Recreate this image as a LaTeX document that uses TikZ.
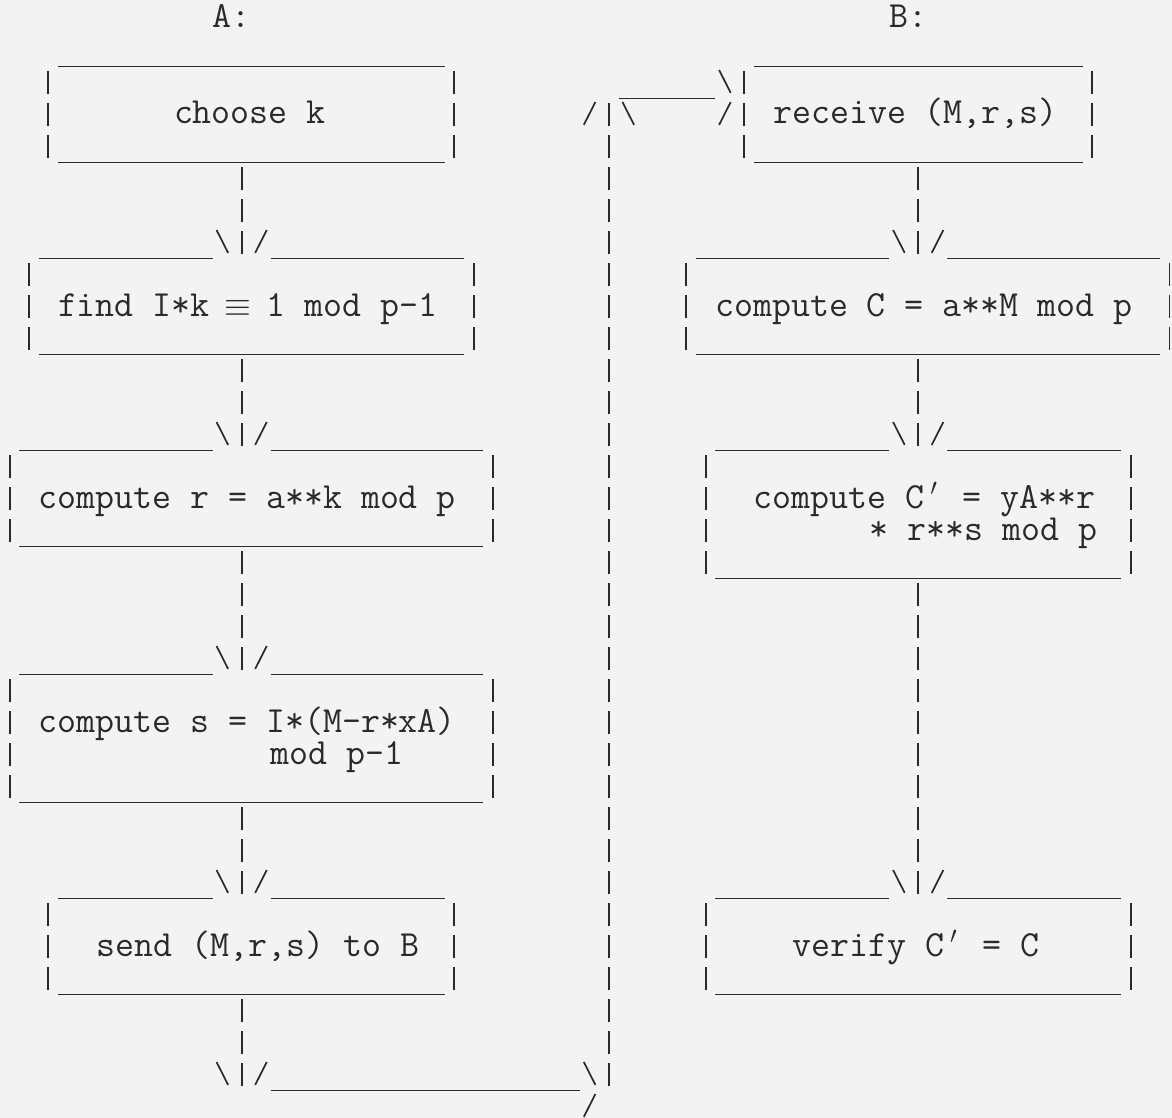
\documentclass[tikz,border=0pt]{standalone}
\usepackage{fontspec}
\definecolor{ink}{HTML}{2A2A2A}
\definecolor{bgc}{HTML}{F3F3F3}
\newcommand\monochar[1]{\makebox[0.525em]{#1}}
\newcommand\twolines[3]{\vtop{\baselineskip=16pt\lineskiplimit=-20pt\hbox{#1}\hbox{\hspace*{#2}#3}}}
\tikzset{
  uline/.style={draw=ink, line width=0.85pt},
  vbar/.style={draw=ink, line width=0.95pt, dash pattern=on 11.5pt off 4.5pt, dash phase=13.75pt},
  vbarup/.style={draw=ink, line width=0.95pt, dash pattern=on 11.5pt off 4.5pt, dash phase=0pt},
  glyph/.style={draw=ink, line width=0.85pt},
  boxshape/.style={rectangle, inner sep=0pt, outer sep=0pt},
  txt/.style={text=ink, inner sep=0pt, outer sep=0pt, anchor=base west, font=\ttfamily\fontsize{18.41pt}{16pt}\selectfont},
}
\newcommand\bslash[2]{\draw[glyph] ({#1-0.3},{#2-0.375}) -- ({#1+0.3},{#2+0.34});}
\newcommand\fslash[2]{\draw[glyph] ({#1+0.3},{#2-0.375}) -- ({#1-0.3},{#2+0.34});}
% name, left col, right col, top row, bottom row, gap col (-1 = none)
\newcommand\abox[6]{%
  \pgfmathsetmacro\boxw{(#3-#2)*9.665}%
  \pgfmathsetmacro\boxh{(#5-#4)*16}%
  \node[boxshape, minimum width=\boxw pt, minimum height=\boxh pt] (#1) at ({(#2+#3)/2},{(#4+#5)/2+0.516}) {};
  \ifnum#6<0
    \draw[uline] ({#2+0.5},{#4+0.516}) -- ({#3-0.5},{#4+0.516});
  \else
    \draw[uline] ({#2+0.5},{#4+0.516}) -- ({#6-1.5},{#4+0.516});
    \draw[uline] ({#6+1.5},{#4+0.516}) -- ({#3-0.5},{#4+0.516});
  \fi
  \draw[uline] ({#2+0.5},{#5+0.516}) -- ({#3-0.5},{#5+0.516});
  \draw[vbar] (#2,{#4+0.516}) -- (#2,{#5+0.375});
  \draw[vbar] (#3,{#4+0.516}) -- (#3,{#5+0.375});
}
\begin{document}
\begin{tikzpicture}[x=9.665pt, y=-16pt]
\fill[bgc] (0pt,0pt) rectangle (586pt,-559pt);
\useasboundingbox (0pt,0pt) rectangle (586pt,-559pt);
\begin{scope}[shift={(4.85pt,-9pt)}]
\coordinate (cA) at (12,0);
\coordinate (cB) at (47,0);

% headings
\node[txt] (hA) at (10.5,0.3125) {A:};
\node[txt] (hB) at (45.5,0.3125) {B:};

% A side boxes
\abox{b1}{2}{23}{1}{4}{-1}
\abox{b2}{1}{24}{7}{10}{12}
\abox{b3}{0}{25}{13}{16}{12}
\abox{b4}{0}{25}{20}{24}{12}
\abox{b5}{2}{23}{27}{30}{12}
\node[txt] (t1) at (8.5,3.3125) {choose k};
\node[txt] (t2) at (2.5,9.3125) {find I*k \monochar{$\equiv$} 1 mod p-1};
\node[txt] (t3) at (1.5,15.3125) {compute r = a**k mod p};
\node[txt] (t4) at (1.5,22.3125) {\twolines{compute s = I*(M-r*xA)}{6.3em}{mod p-1}};
\node[txt] (t5) at (4.5,29.3125) {send (M,r,s) to B};

% B side boxes
\abox{r1}{38}{56}{1}{4}{-1}
\abox{r2}{35}{60}{7}{10}{47}
\abox{r3}{36}{58}{13}{17}{47}
\abox{r4}{36}{58}{27}{30}{47}
\node[txt] (u1) at (39.5,3.3125) {receive (M,r,s)};
\node[txt] (u2) at (36.5,9.3125) {compute C = a**M mod p};
\node[txt] (u3) at (38.5,15.3125) {\twolines{compute C\monochar{$'$} = yA**r}{3.15em}{* r**s mod p}};
\node[txt] (u4) at (40.5,29.3125) {verify C\monochar{$'$} = C};

% A side connectors
\draw[vbar] (b1.south -| cA) -- (b2.north -| cA); \bslash{11}{7} \fslash{13}{7}
\draw[vbar] (b2.south -| cA) -- (b3.north -| cA); \bslash{11}{13} \fslash{13}{13}
\draw[vbar] (b3.south -| cA) -- (b4.north -| cA); \bslash{11}{20} \fslash{13}{20}
\draw[vbar] (b4.south -| cA) -- (b5.north -| cA); \bslash{11}{27} \fslash{13}{27}

% B side connectors
\draw[vbar] (r1.south -| cB) -- (r2.north -| cB); \bslash{46}{7} \fslash{48}{7}
\draw[vbar] (r2.south -| cB) -- (r3.north -| cB); \bslash{46}{13} \fslash{48}{13}
\draw[vbar] (r3.south -| cB) -- (r4.north -| cB); \bslash{46}{27} \fslash{48}{27}

% transfer A -> B
\coordinate (sendend) at (12,33.375);
\coordinate (hstart) at (13.5,33.516);
\coordinate (hend) at (29.5,33.516);
\coordinate (vbot) at (31,33.375);
\coordinate (vtop) at (31,2.656);
\coordinate (tstart) at (31.5,2.516);
\coordinate (tend) at (36.5,2.516);
\draw[vbar] (b5.south -| cA) -- (sendend); \bslash{11}{33} \fslash{13}{33}
\draw[uline] (hstart) -- (hend);
\bslash{30}{33} \fslash{30}{34}
\draw[vbarup] (vbot) -- (vtop);
\fslash{30}{3} \bslash{32}{3}
\draw[uline] (tstart) -- (tend);
\bslash{37}{2} \fslash{37}{3}
\end{scope}
\end{tikzpicture}
\end{document}
